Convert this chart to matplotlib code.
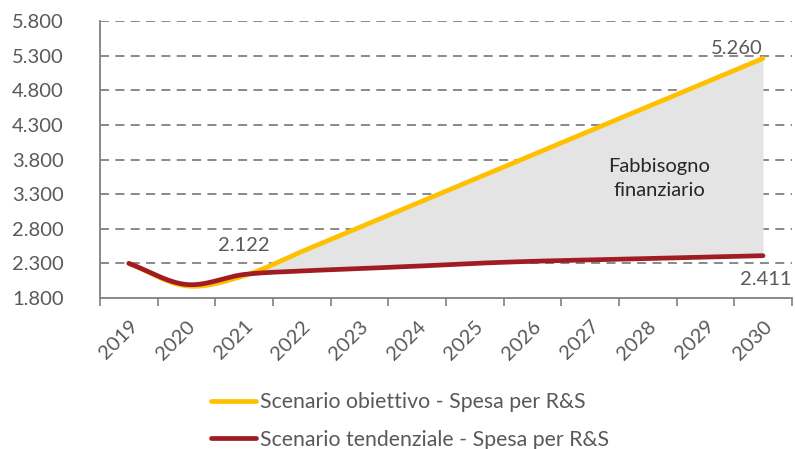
import numpy as np
import matplotlib
matplotlib.use("Agg")
import matplotlib.pyplot as plt
from matplotlib.ticker import FuncFormatter, FixedLocator

years = ["2019", "2020", "2021", "2022", "2023", "2024", "2025", "2026", "2027", "2028", "2029", "2030"]
obiettivo = [2300, 1975, 2122, 2471, 2819, 3168, 3517, 3866, 4214, 4563, 4911, 5260]
tendenziale = [2300, 1995, 2140, 2190, 2225, 2260, 2300, 2330, 2350, 2370, 2390, 2411]
yticks = [1800, 2300, 2800, 3300, 3800, 4300, 4800, 5300, 5800]

YELLOW = "#FFC000"
RED = "#A01C22"
GRAY_TXT = "#595959"

plt.rcParams['font.family'] = ['Lato', 'DejaVu Sans']


def smooth(y, n=30):
    y = np.asarray(y, dtype=float)
    x = np.arange(len(y), dtype=float)
    p = np.concatenate([[2 * y[0] - y[1]], y, [2 * y[-1] - y[-2]]])
    xs, ys = [], []
    for i in range(len(y) - 1):
        p0, p1, p2, p3 = p[i], p[i + 1], p[i + 2], p[i + 3]
        t = np.linspace(0, 1, n, endpoint=(i == len(y) - 2))
        yy = 0.5 * ((2 * p1) + (-p0 + p2) * t + (2 * p0 - 5 * p1 + 4 * p2 - p3) * t ** 2
                    + (-p0 + 3 * p1 - 3 * p2 + p3) * t ** 3)
        xs.append(x[i] + t)
        ys.append(yy)
    return np.concatenate(xs), np.concatenate(ys)


fig = plt.figure(figsize=(7.95, 4.49), dpi=100)
ax = fig.add_axes([0.1258, 0.3363, 0.8702, 0.6169])

xs, yo = smooth(obiettivo)
_, yt = smooth(tendenziale)
mask = xs >= 2.0
ax.fill_between(xs[mask], yt[mask] + 15, yo[mask] - 15, color="#E4E4E4", lw=0, zorder=1)

ax.plot(xs, yo, color=YELLOW, lw=3.4, solid_capstyle="round", zorder=3,
        label="Scenario obiettivo - Spesa per R&S")
ax.plot(xs, yt, color=RED, lw=3.4, solid_capstyle="round", zorder=4,
        label="Scenario tendenziale - Spesa per R&S")

ax.set_xlim(-0.5, len(years) - 0.5)
ax.set_ylim(yticks[0], yticks[-1])
ax.yaxis.set_major_locator(FixedLocator(yticks))
ax.yaxis.set_major_formatter(FuncFormatter(lambda v, p: f"{v:,.0f}".replace(",", ".")))
for yv in yticks[1:]:
    ax.axhline(yv, color="#808080", lw=1.3, ls=(0, (5, 3.5)), zorder=0)

ax.set_xticks(np.arange(len(years)))
ax.set_xticklabels(years, rotation=45, ha="right", rotation_mode="anchor")
ax.set_xticks(np.arange(len(years) + 1) - 0.5, minor=True)
ax.tick_params(axis="x", which="major", length=0, pad=14, labelsize=14.5, labelcolor=GRAY_TXT)
ax.tick_params(axis="x", which="minor", length=6, width=1.2, color="#808080", direction="out")
ax.tick_params(axis="y", length=0, pad=26, labelsize=14.5, labelcolor=GRAY_TXT)

for s in ["top", "right"]:
    ax.spines[s].set_visible(False)
for s in ["left", "bottom"]:
    ax.spines[s].set_color("#808080")
    ax.spines[s].set_linewidth(1.3)

ax.text(2.0, 2560, "2.122", ha="center", va="center", fontsize=14.5, color=GRAY_TXT)
ax.text(11.0, 5410, "5.260", ha="right", va="center", fontsize=14.5, color=GRAY_TXT)
ax.text(11.5, 2060, "2.411", ha="right", va="center", fontsize=14.5, color=GRAY_TXT)
ax.text(9.2, 3530, "Fabbisogno\nfinanziario", ha="center", va="center", fontsize=14.5,
        color="#262626", linespacing=1.5)

fig.legend(loc="upper left", bbox_to_anchor=(0.255, 0.145), frameon=False, fontsize=15.3,
           labelcolor=GRAY_TXT, handlelength=2.1, handletextpad=0.2, labelspacing=0.82,
           borderaxespad=0)

fig.savefig("out.png", dpi=100)
